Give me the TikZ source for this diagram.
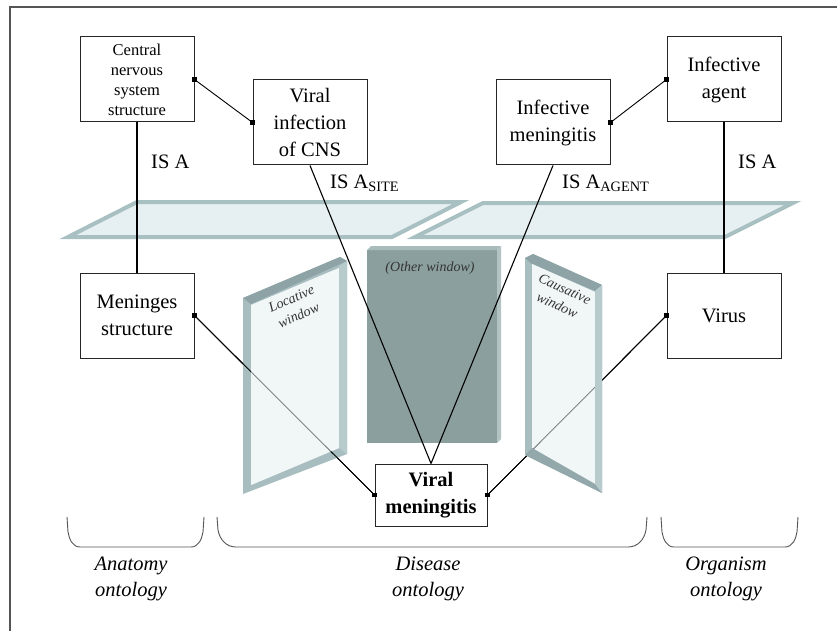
\documentclass[tikz,border=0pt]{standalone}
\usepackage{fontspec}
\setmainfont{Liberation Serif}
\definecolor{planeedge}{HTML}{A8C0C2}
\definecolor{glass}{HTML}{E6EFF1}
\definecolor{otherfront}{HTML}{8C9F9F}
\definecolor{othertop}{HTML}{A9BBBB}
\definecolor{otherside}{HTML}{B3C3C3}
\definecolor{winframe}{HTML}{A7BDBF}
\definecolor{windark}{HTML}{8EA3A5}
\definecolor{winlight}{HTML}{B7CACC}
\definecolor{outline}{HTML}{555555}
\begin{document}
\begin{tikzpicture}[x=1pt,y=-1pt,
  obox/.style={draw=black!85, line width=1pt, fill=white, minimum width=114pt,
    minimum height=85pt, inner sep=0pt, align=center,
    font=\fontsize{20.5}{27}\selectfont},
  smallbox/.style={obox, font=\fontsize{16.5}{20}\selectfont},
  link/.style={draw=black, line width=1.1pt},
  thinlink/.style={draw=black, line width=0.9pt},
  sq/.style={fill=black, rectangle, minimum size=4.5pt, inner sep=0pt},
  plane/.style={draw=planeedge, line width=4pt, fill=glass, line join=miter},
  lbl/.style={font=\fontsize{20.5}{26}\selectfont, inner sep=0pt},
  ont/.style={font=\itshape\fontsize{20.5}{26}\selectfont, align=center, inner sep=0pt},
  wintext/.style={font=\itshape\fontsize{14}{18}\selectfont, align=center, inner sep=0pt, text=black!80},
  brace/.style={draw=outline, line width=0.9pt}
]
\useasboundingbox (0,0) rectangle (837,631);
\fill[white] (0,0) rectangle (837,631);
\draw[outline, line width=1.5pt] (10,631) -- (10,7) -- (837,7);

% horizontal planes
\draw[plane] (137,202) -- (461,202) -- (392,237) -- (68,237) -- cycle;
\draw[plane] (483,203) -- (793,203) -- (725,237) -- (415,237) -- cycle;

% other window
\fill[otherfront] (367,250) rectangle (497,443);
\fill[othertop] (367,250) -- (371,246) -- (501,246) -- (497,250) -- cycle;
\fill[otherside] (497,250) -- (501,246) -- (501,439) -- (497,443) -- cycle;
\node[wintext] (othertext) at (430,268) {(Other window)};

% boxes
\node[smallbox] (cns) at (137,79.5) {Central\\nervous\\system\\structure};
\node[obox] (vinf) at (310,122.5) {Viral\\infection\\of CNS};
\node[obox] (imen) at (553,122.5) {Infective\\meningitis};
\node[obox] (iag) at (724,79.5) {Infective\\agent};
\node[obox] (men) at (137,315.5) {Meninges\\structure};
\node[obox] (vir) at (724,315.5) {Virus};
\node[obox, minimum width=112pt, minimum height=62pt, font=\bfseries\fontsize{20.5}{27}\selectfont] (vm) at (431,495) {Viral\\meningitis};

% lines behind side windows
\draw[thinlink] (men.east) -- (vm.west);
\draw[thinlink] (vir.west) -- (vm.east);

% locative window
\fill[winframe] (243,298) -- (340,257) -- (347,261) -- (347,454) -- (243,494) -- cycle;
\fill[windark] (243,298) -- (340,257) -- (347,261) -- (251,304) -- cycle;
\fill[white] (251,305) -- (339,268) -- (339,448) -- (251,485) -- cycle;
\draw[thinlink] (men.east) -- (vm.west);
\fill[glass, fill opacity=0.55] (251,305) -- (339,268) -- (339,448) -- (251,485) -- cycle;
\fill[winlight] (339,266) -- (347,261) -- (347,454) -- (339,448) -- cycle;
\node[wintext, rotate=24] (loctext) at (295,307) {Locative\\window};

% causative window
\fill[winframe] (525,258) -- (533,254) -- (602,285) -- (602,493) -- (525,455) -- cycle;
\fill[windark] (525,258) -- (533,254) -- (602,285) -- (595,291) -- (532,264) -- cycle;
\fill[white] (532,264) -- (595,292) -- (595,484) -- (532,448) -- cycle;
\draw[thinlink] (vir.west) -- (vm.east);
\fill[glass, fill opacity=0.55] (532,264) -- (595,292) -- (595,484) -- (532,448) -- cycle;
\fill[windark!80!winframe] (525,455) -- (532,448) -- (595,484) -- (602,493) -- cycle;
\fill[winlight] (595,291) -- (602,285) -- (602,493) -- (595,484) -- cycle;
\node[wintext, rotate=-25] (caustext) at (561,297) {Causative\\window};

% lines in front
\draw[link] (cns.south) -- (men.north);
\draw[link] (iag.south) -- (vir.north);
\draw[link] (vinf.south) -- (vm.north);
\draw[link] (imen.south) -- (vm.north);
\draw[thinlink] (cns.east) -- (vinf.west);
\draw[thinlink] (imen.east) -- (iag.west);

% connection squares
\node[sq] at (cns.east) {};
\node[sq] at (vinf.west) {};
\node[sq] at (imen.east) {};
\node[sq] at (iag.west) {};
\node[sq] at (men.east) {};
\node[sq] at (vm.west) {};
\node[sq] at (vir.west) {};
\node[sq] at (vm.east) {};

% relation labels
\node[lbl, anchor=west] (isa1) at (151,162) {IS A};
\node[lbl, anchor=west] (isa2) at (738,162) {IS A};
\node[lbl, anchor=west] (isasite) at (330,183) {IS A\textsubscript{SITE}};
\node[lbl, anchor=west] (isaagent) at (562,183) {IS A\textsubscript{AGENT}};

% braces
\draw[brace] (67,517) -- (68,532) to[out=-80,in=180] (80,547) -- (191,547) to[out=0,in=-100] (203,532) -- (204,517);
\draw[brace] (217,517) -- (218,530) to[out=-80,in=180] (236,547) -- (628,547) to[out=0,in=-100] (646,530) -- (647,517);
\draw[brace] (661,517) -- (662,532) to[out=-80,in=180] (674,547) -- (785,547) to[out=0,in=-100] (797,532) -- (798,517);

% ontology labels
\node[ont] (anat) at (131,579) {Anatomy\\ontology};
\node[ont] (dis) at (428,579) {Disease\\ontology};
\node[ont] (org) at (726,579) {Organism\\ontology};
\end{tikzpicture}
\end{document}
